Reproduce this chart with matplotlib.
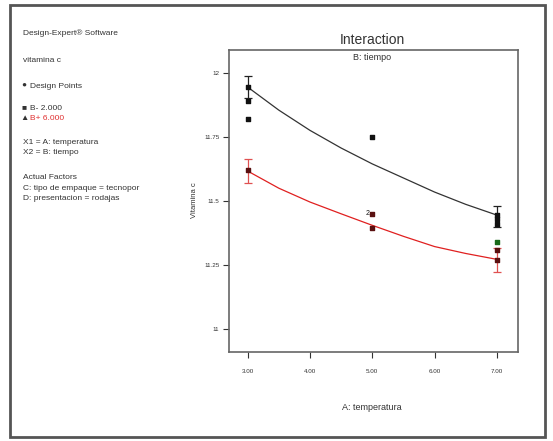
import matplotlib
matplotlib.use("Agg")
import matplotlib.pyplot as plt
from matplotlib.patches import Rectangle

plt.rcParams['font.family'] = ['Liberation Sans', 'DejaVu Sans']

# data
temp_curve = [3, 3.5, 4, 4.5, 5, 5.5, 6, 6.5, 7]
b_minus_curve = [11.945, 11.855, 11.776, 11.707, 11.645, 11.59, 11.535, 11.487, 11.445]
b_plus_curve = [11.617, 11.55, 11.496, 11.45, 11.405, 11.362, 11.322, 11.295, 11.272]

lsd_x = [3, 7]
b_minus_lsd_center = [11.945, 11.44]
b_plus_lsd_center = [11.617, 11.27]
b_minus_lsd_half = 0.042
b_plus_lsd_half = 0.047

b_minus_pts_x = [3, 3, 3, 5, 7, 7, 7]
b_minus_pts_y = [11.945, 11.89, 11.82, 11.75, 11.445, 11.43, 11.41]
b_plus_pts_x = [3, 5, 5, 7, 7]
b_plus_pts_y = [11.62, 11.45, 11.395, 11.31, 11.27]
green_pts_x = [7]
green_pts_y = [11.34]

x_ticks = [3, 4, 5, 6, 7]
x_tick_labels = ['3.00', '4.00', '5.00', '6.00', '7.00']
y_ticks = [11, 11.25, 11.5, 11.75, 12]
y_tick_labels = ['11', '11.25', '11.5', '11.75', '12']

W, H = 553, 441
fig = plt.figure(figsize=(W / 100, H / 100), dpi=100)

# outer frame
fig.patches.append(Rectangle((10 / W, 1 - 437 / H), 535 / W, 432 / H,
                             transform=fig.transFigure, fill=False,
                             edgecolor='#555555', linewidth=2))

ax = fig.add_axes([229 / W, 1 - 352 / H, (518 - 229) / W, (352 - 50) / H])
ax.set_xlim(2.70, 7.34)
ax.set_ylim(10.91, 12.09)

ax.plot(temp_curve, b_minus_curve, color='#333333', lw=0.9)
ax.plot(temp_curve, b_plus_curve, color='#e02020', lw=0.9)

ax.errorbar(lsd_x, b_minus_lsd_center, yerr=b_minus_lsd_half, fmt='none',
            ecolor='#222222', elinewidth=0.9, capsize=3, capthick=0.9)
ax.errorbar(lsd_x, b_plus_lsd_center, yerr=b_plus_lsd_half, fmt='none',
            ecolor='#e05050', elinewidth=0.9, capsize=3, capthick=0.9)

ax.scatter(b_minus_pts_x, b_minus_pts_y, s=9, marker='s', color='#111111', zorder=3)
ax.scatter(b_plus_pts_x, b_plus_pts_y, s=9, marker='s', color='#5a1010', zorder=3)
ax.scatter(green_pts_x, green_pts_y, s=6, marker='s', color='#1a6a1a', zorder=3)
ax.text(4.96, 11.45, '2', fontsize=5, ha='right', va='center', color='#111111')

ax.set_xticks(x_ticks)
ax.set_xticklabels(x_tick_labels)
ax.set_yticks(y_ticks)
ax.set_yticklabels(y_tick_labels)
ax.tick_params(direction='out', length=4, width=0.8, labelsize=4.5, colors='#333333', pad=8)
ax.tick_params(axis='y', pad=3)
for s in ax.spines.values():
    s.set_color('#666666')
    s.set_linewidth(1.2)

fig.text(372 / W, 1 - 40 / H, 'Interaction', ha='center', va='center', fontsize=10, color='#333333')
fig.text(372 / W, 1 - 57 / H, 'B: tiempo', ha='center', va='center', fontsize=6.5, color='#333333')
fig.text(372 / W, 1 - 408 / H, 'A: temperatura', ha='center', va='center', fontsize=6.5, color='#333333')
fig.text(195 / W, 1 - 200 / H, 'Vitamina c', ha='center', va='center', rotation=90, fontsize=5.5, color='#333333')

left = 23 / W
def t(y, s, c='#333333', x=left):
    fig.text(x, 1 - y / H, s, ha='left', va='center', fontsize=6, color=c)

t(33, 'Design-Expert® Software')
t(60, 'vitamina c')
t(85, '●', x=21 / W)
t(86, 'Design Points', x=30 / W)
t(108, '■', x=21 / W)
t(108, 'B- 2.000', x=30 / W)
t(118, '▲', x=20 / W)
t(118, 'B+ 6.000', c='#e03030', x=30 / W)
t(143, 'X1 = A: temperatura')
t(153, 'X2 = B: tiempo')
t(178, 'Actual Factors')
t(188, 'C: tipo de empaque = tecnopor')
t(198, 'D: presentacion = rodajas')

fig.savefig('out.png', dpi=100)
